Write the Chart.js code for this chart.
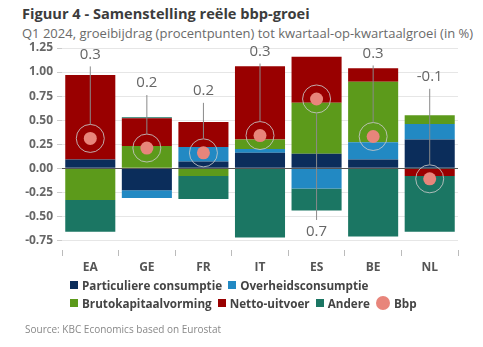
<!DOCTYPE html>
<html>
<head>
<meta charset="utf-8">
<script src="https://cdn.jsdelivr.net/npm/chart.js@4.4.1/dist/chart.umd.min.js"></script>
<style>
  body { margin: 0; background: #fff; font-family: "Open Sans", sans-serif; }
  #wrap { position: relative; width: 483px; height: 347px; overflow: hidden; }
  #title { position: absolute; left: 22px; top: 3px; font-size: 14.6px; font-weight: bold; color: #3c3c3c; white-space: nowrap; }
  #subtitle { position: absolute; left: 22px; top: 24px; font-size: 13px; color: #6a6a6a; white-space: nowrap; }
  #chart { position: absolute; left: 0; top: 0; }
  #legend { position: absolute; left: 70px; top: 276px; width: 385px; display: flex; flex-wrap: wrap; }
  .item { display: flex; align-items: center; height: 18px; margin-right: 6px; font-size: 11.7px; font-weight: bold; color: #444; white-space: nowrap; }
  .box { width: 8px; height: 8px; margin-right: 4px; }
  .dot { width: 14px; height: 14px; border-radius: 50%; margin-right: 4px; }
  #source { position: absolute; left: 25px; top: 322px; font-size: 10px; color: #888; }
</style>
</head>
<body>
<div id="wrap">
  <div id="title">Figuur 4 - Samenstelling reële bbp-groei</div>
  <div id="subtitle">Q1 2024, groeibijdrag (procentpunten) tot kwartaal-op-kwartaalgroei (in %)</div>
  <canvas id="chart" width="483" height="280"></canvas>
  <div id="legend"></div>
  <div id="source">Source: KBC Economics based on Eurostat</div>
</div>
<script>
const countries = ['EA', 'GE', 'FR', 'IT', 'ES', 'BE', 'NL'];
const particuliere = [0.09, -0.23, 0.07, 0.16, 0.15, 0.09, 0.30];
const overheid = [0.00, -0.08, 0.15, 0.04, -0.21, 0.18, 0.16];
const bruto = [-0.33, 0.23, -0.08, 0.10, 0.53, 0.63, 0.09];
const netto = [0.88, 0.29, 0.26, 0.76, 0.48, 0.14, -0.08];
const andere = [-0.33, 0.01, -0.24, -0.72, -0.23, -0.71, -0.58];
const bbp = [0.31, 0.21, 0.16, 0.34, 0.72, 0.33, -0.11];
const yTicks = [-0.75, -0.5, -0.25, 0, 0.25, 0.5, 0.75, 1, 1.25];

// vertical offset (px) of each bbp callout label from its point
const calloutOffset = [-84, -65, -62, -84, 133, -83, -102];

const colors = {
  particuliere: '#0b2d5b',
  overheid: '#2289c3',
  bruto: '#5c9a1b',
  netto: '#990000',
  andere: '#1b7663',
  bbp: '#e8857b'
};

const callouts = {
  id: 'callouts',
  afterDatasetsDraw(chart) {
    const ctx = chart.ctx;
    const x = chart.scales.x, y = chart.scales.y;
    const area = chart.chartArea;
    // zero line over the bars
    const y0 = Math.round(y.getPixelForValue(0)) + 0.5;
    ctx.save();
    ctx.strokeStyle = '#555';
    ctx.lineWidth = 1;
    ctx.beginPath();
    ctx.moveTo(area.left, y0);
    ctx.lineTo(area.right, y0);
    ctx.stroke();

    ctx.font = '15px "Open Sans"';
    ctx.textAlign = 'center';
    ctx.textBaseline = 'middle';
    bbp.forEach((v, i) => {
      const px = x.getPixelForValue(i);
      const py = y.getPixelForValue(v);
      const r = 14;
      ctx.strokeStyle = 'rgba(200,200,200,0.85)';
      ctx.lineWidth = 1;
      ctx.beginPath();
      ctx.arc(px, py, r, 0, Math.PI * 2);
      ctx.stroke();

      const off = calloutOffset[i];
      const ly = py + off;
      ctx.strokeStyle = '#8a8a8a';
      ctx.beginPath();
      if (off < 0) {
        ctx.moveTo(px, ly + 12);
        ctx.lineTo(px, py - r);
      } else {
        ctx.moveTo(px, py + r);
        ctx.lineTo(px, ly - 12);
      }
      ctx.stroke();
      ctx.fillStyle = '#666';
      ctx.fillText(v.toFixed(1), px, ly);
    });
    ctx.restore();
  }
};

const barSet = (label, data, color) => ({
  type: 'bar',
  label: label,
  data: data,
  backgroundColor: color,
  stack: 'bijdrage',
  barPercentage: 0.885,
  categoryPercentage: 1
});

const chart = new Chart(document.getElementById('chart'), {
  data: {
    labels: countries,
    datasets: [
      barSet('Particuliere consumptie', particuliere, colors.particuliere),
      barSet('Overheidsconsumptie', overheid, colors.overheid),
      barSet('Brutokapitaalvorming', bruto, colors.bruto),
      barSet('Netto-uitvoer', netto, colors.netto),
      barSet('Andere', andere, colors.andere),
      {
        type: 'line',
        label: 'Bbp',
        data: bbp,
        stack: 'bbp',
        order: -1,
        showLine: false,
        pointRadius: 6.5,
        pointHoverRadius: 6.5,
        pointBackgroundColor: colors.bbp,
        pointBorderWidth: 0,
        backgroundColor: colors.bbp,
        borderColor: colors.bbp
      }
    ]
  },
  options: {
    responsive: false,
    animation: false,
    devicePixelRatio: 1,
    layout: { padding: { top: 48, right: 25, left: 0, bottom: 0 } },
    plugins: {
      legend: { display: false },
      tooltip: { enabled: false }
    },
    scales: {
      x: {
        stacked: true,
        offset: true,
        grid: { drawOnChartArea: false, drawTicks: true, tickLength: 6, tickColor: '#bbb', offset: true },
        border: { display: false },
        ticks: { color: '#555', font: { family: 'Open Sans', size: 12, weight: 'bold' }, padding: 4 },
        afterFit(scale) { scale.height = 30; }
      },
      y: {
        stacked: true,
        min: -0.85,
        max: 1.25,
        afterBuildTicks(scale) { scale.ticks = yTicks.map(v => ({ value: v })); },
        afterFit(scale) { scale.width = 62; },
        grid: {
          color: '#e6e6e6',
          tickColor: '#ccc',
          tickLength: 5
        },
        border: { display: false },
        ticks: {
          color: '#666',
          padding: 4,
          font: { family: 'Open Sans', size: 12, weight: 'bold' },
          callback: v => Number(v).toFixed(2)
        }
      }
    }
  },
  plugins: [callouts]
});

// html legend built from the datasets
const legend = document.getElementById('legend');
chart.data.datasets.forEach(ds => {
  const item = document.createElement('div');
  item.className = 'item';
  const mark = document.createElement('span');
  mark.className = ds.type === 'line' ? 'dot' : 'box';
  mark.style.background = ds.backgroundColor;
  item.appendChild(mark);
  item.appendChild(document.createTextNode(ds.label));
  legend.appendChild(item);
});
</script>
</body>
</html>
